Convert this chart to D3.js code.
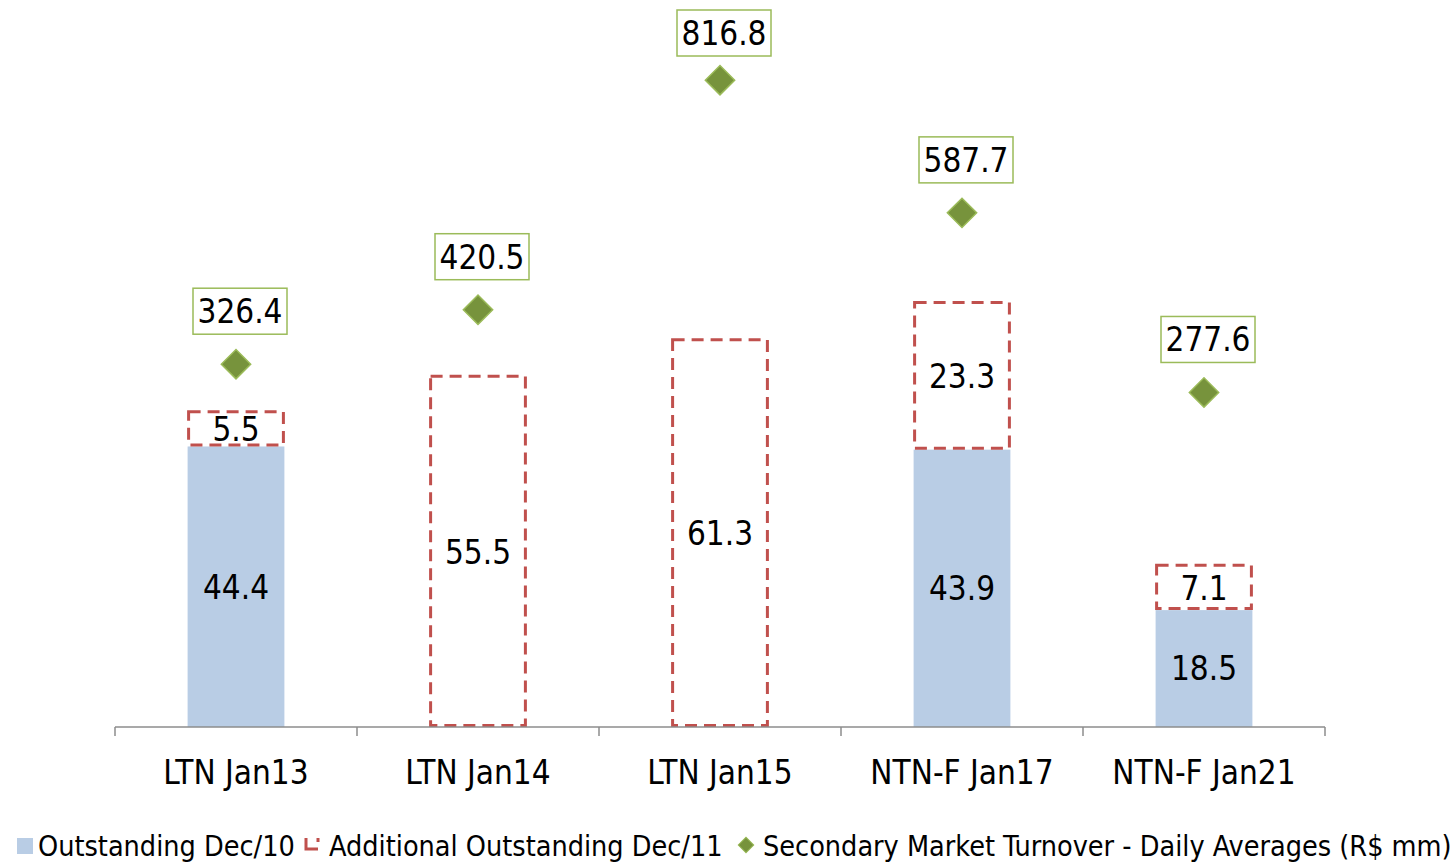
<!DOCTYPE html>
<html lang="en">
<head>
    <meta charset="UTF-8">
    <title>Bonds - Outstanding and Turnover</title>
    <script src="https://d3js.org/d3.v7.min.js"></script>
    <style>
        body{
            margin: 0;
            background-color: white;
        }
        svg text{
            font-family: "DejaVu Sans Condensed", "DejaVu Sans", sans-serif;
            fill: black;
        }
        .axis line{
            stroke: #8c8c8c;
            stroke-width: 1.5px;
        }
    </style>
</head>
<body>
<svg id="canvas" width="1455" height="863"></svg>
<script>
    // chart data
    let categories = ["LTN Jan13", "LTN Jan14", "LTN Jan15", "NTN-F Jan17", "NTN-F Jan21"];
    let outstanding = [44.4, 0, 0, 43.9, 18.5];
    let additional = [5.5, 55.5, 61.3, 23.3, 7.1];
    let turnover = [326.4, 420.5, 816.8, 587.7, 277.6];
    let legendLabels = ["Outstanding Dec/10", "Additional Outstanding Dec/11", "Secondary Market Turnover - Daily Averages (R$ mm)"];

    let svg = d3.select('svg');
    let plotLeft = 115, plotRight = 1325, plotTop = 32, plotBottom = 727;

    let x = d3.scaleBand().domain(categories).range([plotLeft, plotRight]).paddingInner(0.6).paddingOuter(0.3);
    let xTicks = d3.scalePoint().domain(d3.range(categories.length + 1)).range([plotLeft, plotRight]);
    let y = d3.scaleLinear().domain([0, 110]).range([plotBottom, plotTop]);
    let y2 = d3.scaleLinear().domain([-300, 900]).range([plotBottom, plotTop]);

    let blue = "#b9cde5", red = "#c0504d", green = "#77933c", greenEdge = "#9bbb59";
    let labelSize = "33px", legendSize = "28.5px";

    // blue bars
    svg.append('g').selectAll('rect')
        .data(categories.filter((c, i) => outstanding[i] > 0))
        .enter().append('rect')
        .attr("x", c => x(c))
        .attr("width", x.bandwidth())
        .attr("y", c => y(outstanding[categories.indexOf(c)]))
        .attr("height", c => plotBottom - y(outstanding[categories.indexOf(c)]))
        .attr("fill", blue);

    // dashed boxes
    svg.append('g').selectAll('rect')
        .data(categories)
        .enter().append('rect')
        .attr("x", c => x(c) + 1)
        .attr("width", x.bandwidth() - 2)
        .attr("y", (c, i) => y(outstanding[i] + additional[i]))
        .attr("height", (c, i) => y(outstanding[i]) - y(outstanding[i] + additional[i]) - 1.5)
        .attr("fill", "none")
        .attr("stroke", red)
        .attr("stroke-width", 3)
        .attr("stroke-dasharray", "12,7");

    // axis
    let axisG = svg.append('g').attr("class", "axis");
    axisG.append('line').attr("x1", plotLeft).attr("x2", plotRight).attr("y1", plotBottom).attr("y2", plotBottom);
    axisG.selectAll('.tk').data(xTicks.domain()).enter().append('line')
        .attr("class", "tk")
        .attr("x1", d => xTicks(d)).attr("x2", d => xTicks(d))
        .attr("y1", plotBottom).attr("y2", plotBottom + 9);
    svg.append('g').selectAll('text')
        .data(categories).enter().append('text')
        .attr("x", c => x(c) + x.bandwidth() / 2)
        .attr("y", 772)
        .attr("dy", "0.36em")
        .attr("text-anchor", "middle")
        .style("font-size", labelSize)
        .text(c => c);

    // bar value labels
    let segLabels = [];
    categories.forEach((c, i) => {
        if (outstanding[i] > 0) segLabels.push({c: c, v: outstanding[i], mid: outstanding[i] / 2});
        segLabels.push({c: c, v: additional[i], mid: outstanding[i] + additional[i] / 2});
    });
    svg.append('g').selectAll('text')
        .data(segLabels).enter().append('text')
        .attr("x", d => x(d.c) + x.bandwidth() / 2)
        .attr("y", d => y(d.mid))
        .attr("dy", "0.36em")
        .attr("text-anchor", "middle")
        .style("font-size", labelSize)
        .text(d => d.v.toFixed(1));

    // diamonds
    let cx = c => x(c) + x.bandwidth() / 2;
    svg.append('g').selectAll('path')
        .data(categories).enter().append('path')
        .attr("d", d3.symbol().type(d3.symbolSquare).size(430))
        .attr("transform", (c, i) => "translate(" + cx(c) + "," + y2(turnover[i]) + ") rotate(45)")
        .attr("fill", green)
        .attr("stroke", greenEdge)
        .attr("stroke-width", 1.5);

    // diamond labels
    let lab = svg.append('g').selectAll('g')
        .data(categories).enter().append('g')
        .attr("transform", (c, i) => "translate(" + (cx(c) + 4) + "," + Math.max(33, y2(turnover[i]) - 53) + ")");
    lab.append('rect')
        .attr("x", -47).attr("y", -23).attr("width", 94).attr("height", 46)
        .attr("fill", "white").attr("stroke", greenEdge).attr("stroke-width", 1.5);
    lab.append('text')
        .attr("text-anchor", "middle").attr("dy", "0.36em")
        .style("font-size", labelSize)
        .text((c, i) => turnover[i].toFixed(1));

    // legend
    let lg = svg.append('g').attr("transform", "translate(0,846)");
    lg.append('rect').attr("x", 17).attr("y", -8).attr("width", 16).attr("height", 16).attr("fill", blue);
    lg.append('text').attr("x", 38).attr("dy", "0.36em").style("font-size", legendSize).text(legendLabels[0]);
    lg.append('path').attr("d", "M306,-8 L306,3 L318,3 M318,-8 L318,-4")
        .attr("fill", "none").attr("stroke", red).attr("stroke-width", 3);
    lg.append('text').attr("x", 329).attr("dy", "0.36em").style("font-size", legendSize).text(legendLabels[1]);
    lg.append('path').attr("d", d3.symbol().type(d3.symbolSquare).size(120))
        .attr("transform", "translate(746,-1) rotate(45)")
        .attr("fill", green).attr("stroke", greenEdge);
    lg.append('text').attr("x", 763).attr("dy", "0.36em").style("font-size", legendSize).text(legendLabels[2]);
</script>
</body>
</html>
